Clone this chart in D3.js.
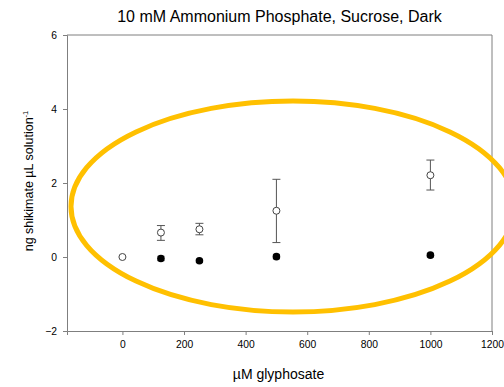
<!DOCTYPE html>
<html><head><meta charset="utf-8">
<script src="https://cdn.jsdelivr.net/npm/d3@7"></script>
<style>body{margin:0;background:#fff}svg{display:block}text{font-family:"Liberation Sans",Arial,sans-serif}</style>
</head><body>
<script>
const title = "10 mM Ammonium Phosphate, Sucrose, Dark";
const xLabel = "\u00b5M glyphosate";
const xTicks = [0, 200, 400, 600, 800, 1000, 1200];
const yTicks = [-2, 0, 2, 4, 6];
// open circles
const openX = [0, 125, 250, 500, 1000];
const openY = [0, 0.66, 0.75, 1.25, 2.21];
const openLo = [0, 0.45, 0.60, 0.39, 1.81];
const openHi = [0, 0.85, 0.91, 2.10, 2.62];
// filled circles
const fillX = [125, 250, 500, 1000];
const fillY = [-0.04, -0.10, 0.01, 0.05];
const fillLo = [-0.10, -0.14, -0.05, 0.00];
const fillHi = [0.02, -0.06, 0.07, 0.10];

const W = 504, H = 387;
const m = {l: 67, r: 12, t: 35, b: 55};
const svg = d3.select("body").append("svg").attr("width", W).attr("height", H);
const x = d3.scaleLinear().domain([-180, 1200]).range([m.l, W - m.r]);
const y = d3.scaleLinear().domain([-2, 6]).range([H - m.b - 1, m.t]);
const axisCol = "#7f7f7f";

// frame
svg.append("line").attr("x1", x(-180)).attr("x2", x(1200)).attr("y1", y(6)).attr("y2", y(6)).attr("stroke", axisCol);
svg.append("line").attr("x1", x(1200)).attr("x2", x(1200)).attr("y1", y(6)).attr("y2", y(-2)).attr("stroke", axisCol);

const gx = svg.append("g").attr("transform", `translate(0,${y(-2)})`)
  .call(d3.axisBottom(x).tickValues(xTicks).tickSize(4).tickPadding(6).tickFormat(d3.format("d")));
const gy = svg.append("g").attr("transform", `translate(${x(-180)},0)`)
  .call(d3.axisLeft(y).tickValues(yTicks).tickSize(4).tickPadding(6).tickFormat(d3.format("d")));
[gx, gy].forEach(g => {
  g.select(".domain").attr("stroke", axisCol);
  g.selectAll(".tick line").attr("stroke", axisCol);
  g.selectAll("text").attr("font-size", 10.3).attr("fill", "#000").attr("font-family", "Liberation Sans, Arial, sans-serif");
});

// error bars
function errbars(xs, lo, hi, cap) {
  const g = svg.append("g").attr("stroke", "#555").attr("stroke-width", 1);
  xs.forEach((d, i) => {
    if (hi[i] === lo[i]) return;
    g.append("line").attr("x1", x(d)).attr("x2", x(d)).attr("y1", y(lo[i])).attr("y2", y(hi[i]));
    g.append("line").attr("x1", x(d) - cap).attr("x2", x(d) + cap).attr("y1", y(lo[i])).attr("y2", y(lo[i]));
    g.append("line").attr("x1", x(d) - cap).attr("x2", x(d) + cap).attr("y1", y(hi[i])).attr("y2", y(hi[i]));
  });
}
errbars(openX, openLo, openHi, 4);
errbars(fillX, fillLo, fillHi, 3.5);

svg.append("g").selectAll("circle").data(fillX).join("circle")
  .attr("cx", d => x(d)).attr("cy", (d, i) => y(fillY[i])).attr("r", 3.8).attr("fill", "#000");
svg.append("g").selectAll("circle").data(openX).join("circle")
  .attr("cx", d => x(d)).attr("cy", (d, i) => y(openY[i])).attr("r", 3.5)
  .attr("fill", "#fff").attr("stroke", "#444").attr("stroke-width", 1);

// title and labels
svg.append("text").attr("x", (x(-180) + x(1200)) / 2).attr("y", 22).attr("text-anchor", "middle")
  .attr("font-size", 16).text(title);
svg.append("text").attr("x", (x(-180) + x(1200)) / 2 - 1).attr("y", 379).attr("text-anchor", "middle")
  .attr("font-size", 14).text(xLabel);
const yl = svg.append("text").attr("transform", `translate(33,${(y(-2) + y(6)) / 2 - 2}) rotate(-90)`)
  .attr("text-anchor", "middle").attr("font-size", 12.5);
yl.append("tspan").text("ng shikimate \u00b5L solution");
yl.append("tspan").attr("dy", -5).attr("font-size", 7.5).text("-1");

// highlight ellipse
svg.append("ellipse").attr("cx", 293).attr("cy", 206.5).attr("rx", 222).attr("ry", 105.5)
  .attr("fill", "none").attr("stroke", "#FFC000").attr("stroke-width", 5);
</script>
</body></html>
